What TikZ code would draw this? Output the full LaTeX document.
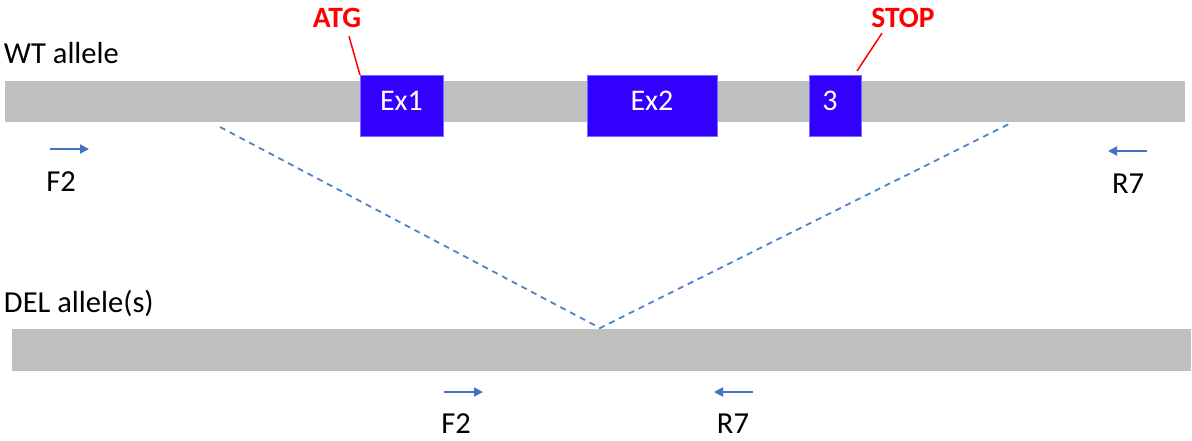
\documentclass[tikz,border=0pt]{standalone}
\usepackage{fontspec}
\setmainfont{Carlito}
\usetikzlibrary{arrows.meta}
\definecolor{bargray}{HTML}{BFBFBF}
\definecolor{exonblue}{HTML}{3300FF}
\definecolor{exonedge}{HTML}{7070FF}
\definecolor{primerblue}{HTML}{4472C4}
\definecolor{guideblue}{HTML}{4F82C9}
\definecolor{markred}{HTML}{FF0000}

\begin{document}
\begin{tikzpicture}[x=1pt,y=-1pt,
  every node/.style={inner sep=0pt, outer sep=0pt},
  allele/.style={fill=bargray, draw=none, anchor=north west, minimum height=#1},
  exon/.style={fill=exonblue, draw=exonedge, line width=0.8pt, anchor=north west,
    minimum height=61pt, minimum width=#1},
  exonlbl/.style={text=white, font=\fontsize{30}{36}\selectfont},
  lbl/.style={text=black, font=\fontsize{30.5}{36}\selectfont, anchor=base},
  codonlbl/.style={text=markred, font=\fontsize{29.5}{35}\selectfont\bfseries, anchor=base},
  primer/.style={draw=primerblue, line width=1.8pt, -{Triangle[length=9pt,width=9pt]}},
  deletion/.style={draw=guideblue, line width=1.8pt, dash pattern=on 6pt off 5pt},
  pointer/.style={draw=markred, line width=1.5pt}
]
\useasboundingbox (0,0) rectangle (1192,440);

% wild-type allele with its three exons
\node[allele=41pt, minimum width=1180pt] (wt) at (5,81) {};
\node[exon=83pt]  (ex1) at (360,75) {};
\node[exon=130pt] (ex2) at (587,75) {};
\node[exon=52pt]  (ex3) at (809,75) {};
\node[exonlbl] (ex1t) at ([yshift=4.5pt]ex1.center) {Ex1};
\node[exonlbl] (ex2t) at ([yshift=4.5pt]ex2.center) {Ex2};
\node[exonlbl] (ex3t) at ([shift={(-5,-4.5)}]ex3.center) {3};
\node[lbl, anchor=base west] (wtlbl) at (4,63) {WT allele};

% start and stop codons
\node[codonlbl] (atg)  at (337,27) {ATG};
\node[codonlbl] (stop) at (903,27) {STOP};
\draw[pointer] ([shift={(12,9)}]atg.south) -- (ex1.north west);
\draw[pointer] ([shift={(-21,6)}]stop.south) -- ([shift={(-4,-4)}]ex3.north east);

% deleted allele
\node[allele=42pt, minimum width=1179pt] (del) at (12,329) {};
\node[lbl, anchor=base west] (dellbl) at (4,312) {DEL allele(s)};

% extent of the deletion
\coordinate (cutL) at (220,127);
\coordinate (cutR) at (1011,123);
\coordinate (junction) at (600,328);
\draw[deletion] (cutL) -- (junction) -- (cutR);

% primers on the wild-type allele
\coordinate (f2a) at (50,149);   \coordinate (f2b) at (89,149);
\coordinate (r7a) at (1147,151); \coordinate (r7b) at (1108,151);
\draw[primer] (f2a) -- (f2b);
\draw[primer] (r7a) -- (r7b);
\node[lbl] (f2lbl) at (61,191) {F2};
\node[lbl] (r7lbl) at (1128,193) {R7};

% primers on the deleted allele
\coordinate (f2c) at (444,392); \coordinate (f2d) at (483,392);
\coordinate (r7c) at (753,392); \coordinate (r7d) at (714,392);
\draw[primer] (f2c) -- (f2d);
\draw[primer] (r7c) -- (r7d);
\node[lbl] (f2dlbl) at (456,433) {F2};
\node[lbl] (r7dlbl) at (733,433) {R7};
\end{tikzpicture}
\end{document}
